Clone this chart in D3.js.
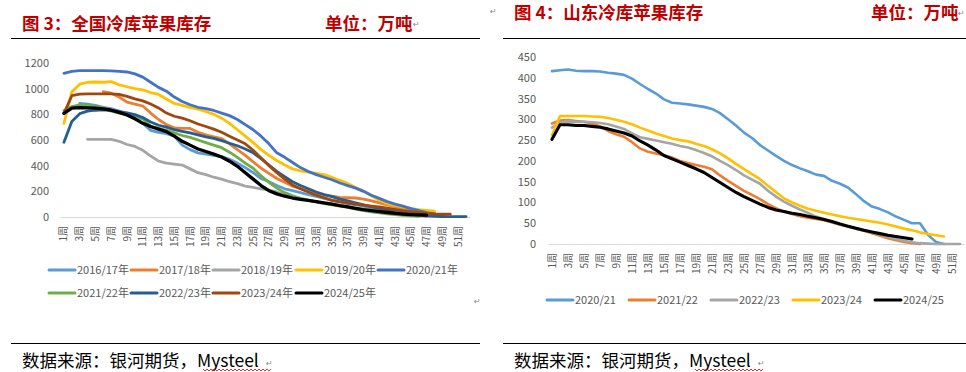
<!DOCTYPE html>
<html>
<head>
<meta charset="utf-8">
<script src="https://cdn.jsdelivr.net/npm/d3@7"></script>
<style>
  html, body { margin: 0; padding: 0; background: #fff; }
  svg { display: block; font-family: "Noto Sans CJK SC", "Noto Sans", sans-serif; }
</style>
</head>
<body>
<div id="page"></div>
<script>
(() => {
// weeks 1..52
const weeks = d3.range(1, 53);
const weekTicks = weeks.filter(w => w % 2 === 1);

// ---- 图3 全国冷库苹果库存 (万吨)
const nationalSeasons = ["2016/17年", "2017/18年", "2018/19年", "2019/20年", "2020/21年",
  "2021/22年", "2022/23年", "2023/24年", "2024/25年"];
const nationalColors = ["#5B9BD5", "#ED7D31", "#A5A5A5", "#FFC000", "#4472C4",
  "#70AD47", "#255E91", "#9E480E", "#000000"];
const nationalTicks = [0, 200, 400, 600, 800, 1000, 1200];

const nat2016 = [null, null, 886, 880, 870, 855, 845, 825, 805, 780, 730, 675, 660, 650, 630, 560,
  525, 500, 490, 480, 470, 450, 420, 385, 345, 300, 275, 245, 220, 205, 190, 175, 160, 145, 130,
  120, 105, 95, 85, 70, 60, 50, 40, 30, 22, 15, 10];
const nat2017 = [null, null, null, null, null, 977, 965, 935, 895, 880, 865, 810, 760, 720, 695, 690,
  690, 660, 640, 625, 610, 570, 525, 480, 430, 380, 340, 300, 270, 240, 220, 200, 185, 172, 162,
  152, 150, 148, 140, 125, 110, 95, 80, 68, 58, 48, 40, 32];
const nat2018 = [null, null, null, 605, 605, 605, 605, 590, 565, 550, 520, 475, 435, 420, 412, 405,
  375, 345, 330, 310, 295, 275, 260, 240, 230, 220, 210, 195, 175, 160, 145, 130, 118, 108, 98,
  88, 78, 68, 60, 52, 44, 36, 28, 22, 16, 10, 5];
const nat2019 = [730, 975, 1035, 1050, 1052, 1050, 1055, 1030, 1015, 1000, 990, 970, 955, 920, 885, 870,
  855, 840, 822, 800, 770, 730, 680, 630, 580, 525, 480, 440, 405, 375, 360, 350, 340, 330, 310,
  285, 262, 230, 200, 165, 130, 105, 90, 78, 68, 57, 52, 45];
const nat2020 = [1120, 1135, 1140, 1140, 1140, 1140, 1138, 1135, 1130, 1115, 1090, 1050, 1010, 980, 935, 900,
  875, 855, 845, 830, 810, 790, 760, 720, 680, 630, 570, 500, 465, 425, 385, 355, 330, 310, 290,
  265, 245, 225, 200, 170, 145, 120, 100, 85, 65, 50, 35, 22, 12];
const nat2021 = [830, 860, 873, 870, 862, 850, 825, 810, 795, 780, 765, 705, 690, 675, 655, 635,
  620, 600, 580, 560, 540, 505, 465, 420, 380, 320, 270, 225, 190, 165, 145, 130, 118, 105, 95,
  85, 75, 62, 50, 40, 32, 25, 18, 12, 8, 5];
const nat2022 = [582, 745, 805, 825, 832, 834, 830, 822, 812, 798, 775, 740, 715, 700, 680, 668,
  655, 640, 625, 612, 595, 575, 555, 530, 500, 455, 405, 355, 315, 275, 245, 220, 195, 175, 158,
  140, 125, 110, 95, 80, 68, 56, 42, 32, 22, 14, 8, 5, 4, 3, 3, 3];
const nat2023 = [808, 945, 958, 960, 960, 960, 960, 955, 940, 920, 905, 880, 850, 810, 785, 770,
  750, 725, 705, 685, 660, 630, 600, 570, 520, 460, 400, 345, 295, 250, 220, 195, 170, 150, 130,
  118, 108, 100, 92, 85, 78, 70, 60, 50, 42, 35, 28, 24, 22, 22];
const nat2024 = [808, 848, 853, 850, 848, 843, 832, 815, 795, 765, 730, 705, 685, 665, 630, 590,
  560, 530, 510, 490, 468, 435, 395, 345, 295, 245, 205, 180, 162, 148, 138, 130, 120, 110, 100,
  88, 78, 68, 58, 50, 42, 35, 28, 23, 19, 16, 14];

// ---- 图4 山东冷库苹果库存 (万吨)
const shandongSeasons = ["2020/21", "2021/22", "2022/23", "2023/24", "2024/25"];
const shandongColors = ["#5B9BD5", "#ED7D31", "#A5A5A5", "#FFC000", "#000000"];
const shandongTicks = [0, 50, 100, 150, 200, 250, 300, 350, 400, 450];

const sd2020 = [416, 418, 420, 417, 416, 416, 415, 412, 410, 407, 398, 385, 373, 362, 348, 340,
  338, 336, 333, 330, 325, 315, 300, 285, 268, 255, 238, 225, 212, 200, 190, 182, 175, 167, 164,
  152, 145, 136, 120, 103, 90, 84, 76, 66, 58, 50, 50, 22, 5, 0];
const sd2021 = [290, 297, 298, 296, 294, 290, 283, 272, 264, 258, 245, 230, 222, 218, 213, 208,
  200, 195, 190, 186, 180, 165, 152, 140, 128, 118, 108, 96, 86, 78, 72, 67, 63, 60, 57,
  52, 47, 42, 37, 32, 26, 20, 14, 9, 5, 2, 0];
const sd2022 = [280, 293, 295, 294, 294, 293, 291, 288, 283, 277, 266, 257, 253, 249, 245, 241,
  236, 232, 226, 219, 211, 200, 190, 178, 165, 155, 145, 128, 114, 102, 92, 83, 75, 66, 60,
  53, 47, 42, 37, 32, 28, 22, 17, 12, 8, 4, 2, 1, 0, 0, 0, 0];
const sd2023 = [262, 308, 308, 308, 308, 307, 306, 303, 299, 294, 288, 280, 273, 266, 260, 254,
  250, 247, 241, 236, 228, 218, 206, 193, 180, 168, 156, 140, 125, 110, 100, 92, 85, 80, 75,
  71, 67, 63, 60, 57, 54, 51, 47, 42, 37, 33, 28, 24, 21, 18];
const sd2024 = [252, 287, 287, 285, 285, 283, 281, 277, 272, 267, 260, 248, 238, 226, 213, 205,
  197, 189, 181, 172, 160, 148, 136, 124, 114, 105, 96, 88, 82, 78, 74, 71, 67, 63, 59,
  54, 48, 43, 38, 33, 29, 25, 21, 18, 15, 12];

const svg = d3.select("#page").append("svg")
  .attr("width", 966)
  .attr("height", 372);

function wavy(g, x0, x1, y) {
  let d = `M${x0},${y}`;
  for (let x = x0, k = 0; x < x1; x += 2, k++) {
    d += ` L${x + 2},${y + (k % 2 === 0 ? 2 : 0)}`;
  }
  g.append("path").attr("d", d).attr("fill", "none")
    .attr("stroke", "#E00000").attr("stroke-width", 0.8);
}

function mark(g, x, y) {
  g.append("text").attr("x", x).attr("y", y)
    .style("font-family", "DejaVu Sans")
    .style("font-size", "8px").attr("fill", "#888").text("\u21B5");
}

function drawPanel(cfg) {
  const g = svg.append("g");

  // header
  g.append("text").attr("x", cfg.titleX).attr("y", cfg.titleY)
    .attr("fill", "#C00000").style("font-size", "17.5px").style("font-weight", "bold")
    .text(cfg.title);
  g.append("text").attr("x", cfg.unitX).attr("y", cfg.titleY)
    .attr("fill", "#C00000").style("font-size", "17.5px").style("font-weight", "bold")
    .text("单位：万吨");
  g.append("line").attr("x1", cfg.ruleX0).attr("x2", cfg.ruleX1)
    .attr("y1", 38.5).attr("y2", 38.5).attr("stroke", "#000").attr("stroke-width", 1);

  // scales
  const x = d3.scaleBand().domain(weeks).range(cfg.xRange);
  const half = x.bandwidth() / 2;
  const y = d3.scaleLinear().domain([0, cfg.yMax]).range(cfg.yRange);

  // y axis
  const ya = g.append("g")
    .attr("transform", `translate(${cfg.yLabelX},0)`)
    .call(d3.axisLeft(y).tickValues(cfg.yTicks).tickSize(0).tickPadding(0)
      .tickFormat(d3.format("d")));
  ya.select(".domain").remove();
  ya.selectAll("text").attr("fill", "#595959")
    .style("font-size", "11px").style("font-family", "Noto Sans CJK SC");

  // x axis
  const xa = g.append("g")
    .attr("transform", `translate(0,${cfg.yRange[0]})`)
    .call(d3.axisBottom(x).tickValues(weekTicks).tickSize(0).tickSizeOuter(0)
      .tickFormat(d => d + "周"));
  xa.select(".domain").attr("stroke", "#D9D9D9").attr("stroke-width", 1);
  xa.selectAll("text")
    .attr("transform", "rotate(-90)")
    .attr("x", -9).attr("y", 0).attr("dy", "0.35em")
    .style("text-anchor", "end")
    .attr("fill", "#595959")
    .style("font-size", "10px").style("font-family", "Noto Sans CJK SC");

  // series
  const line = d3.line()
    .defined(d => d != null)
    .x((d, i) => x(weeks[i]) + half)
    .y(d => y(d));

  cfg.series.forEach((s, i) => {
    g.append("path")
      .datum(s)
      .attr("fill", "none")
      .attr("stroke", cfg.colors[i])
      .attr("stroke-width", cfg.colors[i] === "#000000" ? cfg.lw + 0.5 : cfg.lw)
      .attr("stroke-linejoin", "round")
      .attr("stroke-linecap", "round")
      .attr("d", line);
  });

  // legend
  cfg.names.forEach((name, i) => {
    const pos = cfg.legendPos[i];
    const row = g.append("g").attr("transform", `translate(${pos[0]},${pos[1]})`);
    row.append("line").attr("x1", 0).attr("x2", 26).attr("y1", 0).attr("y2", 0)
      .attr("stroke", cfg.colors[i]).attr("stroke-width", 3).attr("stroke-linecap", "round");
    row.append("text").attr("x", 28).attr("y", 0).attr("dy", "0.35em")
      .attr("fill", "#595959").style("font-size", "11px")
      .text(name);
  });

  // footer
  g.append("line").attr("x1", cfg.ruleX0).attr("x2", cfg.ruleX1)
    .attr("y1", 343.5).attr("y2", 343.5).attr("stroke", "#000").attr("stroke-width", 1);
  g.append("text").attr("x", cfg.titleX).attr("y", 367)
    .attr("fill", "#000").style("font-size", "17.5px")
    .text("数据来源：银河期货，Mysteel");
  wavy(g, cfg.titleX + 181, cfg.titleX + 248, 369);
  return g;
}

const left = drawPanel({
  title: "图 3：全国冷库苹果库存",
  titleX: 22, titleY: 30, unitX: 325,
  ruleX0: 11, ruleX1: 480,
  xRange: [60, 470], yRange: [217, 63], yMax: 1200, yTicks: nationalTicks, yLabelX: 49,
  series: [nat2016, nat2017, nat2018, nat2019, nat2020, nat2021, nat2022, nat2023, nat2024],
  colors: nationalColors, names: nationalSeasons, lw: 2.8,
  legendPos: [[49, 270], [131, 270], [213, 270], [296, 270], [378, 270],
              [49, 293], [131, 293], [213, 293], [296, 293]]
});
mark(left, 413, 27);
mark(left, 474, 304);
mark(left, 266, 366);

const right = drawPanel({
  title: "图 4：山东冷库苹果库存",
  titleX: 514, titleY: 19, unitX: 871,
  ruleX0: 503, ruleX1: 966,
  xRange: [548, 964], yRange: [244, 57], yMax: 450, yTicks: shandongTicks, yLabelX: 536,
  series: [sd2020, sd2021, sd2022, sd2023, sd2024],
  colors: shandongColors, names: shandongSeasons, lw: 2.6,
  legendPos: [[547, 300], [629, 300], [711, 300], [793, 300], [875, 300]]
});
mark(right, 490, 14);
mark(right, 958, 16);
mark(right, 758, 366);
})();
</script>
</body>
</html>
